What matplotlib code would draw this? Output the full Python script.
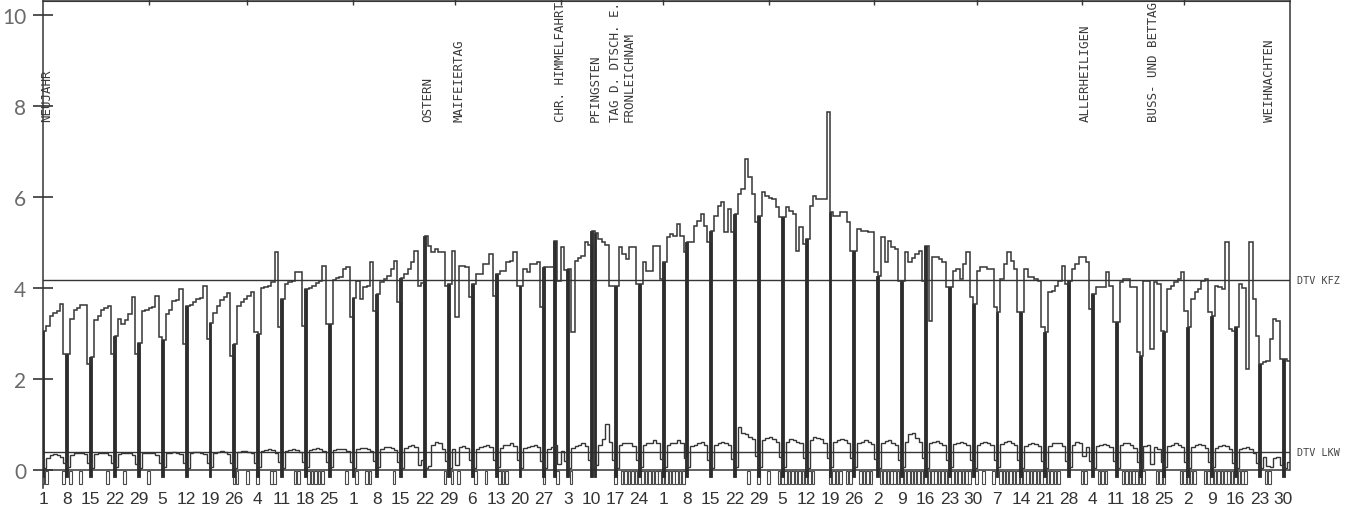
import numpy as np
import matplotlib
matplotlib.use("Agg")
import matplotlib.pyplot as plt
from matplotlib.transforms import blended_transform_factory

# Tagesverkehr 1984 in 1000 Kfz/24h, one value per day, 1 Jan 1984 = Sunday
kfz = [
    3.06, 3.17, 3.39, 3.45, 3.50, 3.65, 2.55,
    2.55, 3.32, 3.52, 3.56, 3.62, 3.62, 2.33,
    2.48, 3.30, 3.38, 3.52, 3.56, 3.60, 2.55,
    2.95, 3.32, 3.20, 3.30, 3.42, 3.80, 2.55,
    2.79, 3.50, 3.52, 3.55, 3.58, 3.82, 2.93,
    2.86, 3.43, 3.52, 3.72, 3.74, 3.98, 2.76,
    3.60, 3.62, 3.68, 3.76, 3.78, 4.05, 2.88,
    3.23, 3.45, 3.60, 3.74, 3.80, 3.88, 2.50,
    2.77, 3.61, 3.68, 3.76, 3.82, 3.90, 3.04,
    2.99, 3.99, 4.01, 4.04, 4.12, 4.80, 3.13,
    3.76, 4.09, 4.12, 4.15, 4.34, 4.36, 3.16,
    3.98, 4.00, 4.05, 4.10, 4.15, 4.49, 3.21,
    3.20, 4.18, 4.22, 4.25, 4.42, 4.45, 3.36,
    3.77, 4.16, 3.76, 4.01, 4.05, 4.56, 3.50,
    3.87, 4.12, 4.19, 4.27, 4.42, 4.60, 3.69,
    4.21, 4.31, 4.42, 4.56, 4.82, 4.05, 4.10,
    5.15, 4.93, 4.80, 4.85, 4.80, 4.78, 4.05,
    4.09, 4.82, 3.36, 4.49, 4.49, 4.45, 3.80,
    4.09, 4.31, 4.31, 4.53, 4.53, 4.75, 3.83,
    4.31, 4.38, 4.38, 4.56, 4.60, 4.78, 4.05,
    4.05, 4.42, 4.35, 4.53, 4.53, 4.56, 3.58,
    4.45, 4.45, 4.45, 5.04, 4.16, 4.90, 4.40,
    4.42, 3.03, 4.60, 4.65, 4.71, 5.00, 4.95,
    5.26, 5.20, 5.08, 5.00, 4.95, 4.05, 4.05,
    4.05, 4.90, 4.75, 4.64, 4.90, 4.90, 4.09,
    4.09, 4.56, 4.38, 4.38, 4.93, 4.93, 4.20,
    4.56, 5.11, 5.19, 5.15, 5.41, 5.15, 4.80,
    5.00, 5.00, 5.37, 5.48, 5.63, 5.37, 5.00,
    5.26, 5.59, 5.81, 5.88, 5.22, 5.74, 5.22,
    5.63, 6.07, 6.18, 6.84, 6.43, 6.07, 5.44,
    5.59, 6.10, 6.03, 5.98, 5.96, 5.77, 5.55,
    5.55, 5.77, 5.70, 5.63, 4.82, 5.33, 4.97,
    5.08, 5.81, 6.03, 5.96, 5.96, 5.96, 7.86,
    5.66, 5.59, 5.59, 5.66, 5.66, 5.44, 4.82,
    4.82, 5.30, 5.26, 5.26, 5.22, 5.22, 4.34,
    4.27, 5.13, 4.56, 5.04, 4.90, 4.86, 4.16,
    4.16, 4.78, 4.56, 4.65, 4.75, 4.82, 4.16,
    4.93, 3.28, 4.67, 4.67, 4.64, 4.56, 4.01,
    4.01, 4.38, 4.42, 4.20, 4.53, 4.78, 3.80,
    3.65, 4.38, 4.45, 4.45, 4.42, 4.42, 3.58,
    3.47, 4.20, 4.53, 4.78, 4.60, 4.42, 3.47,
    3.47, 4.42, 4.23, 4.23, 4.20, 4.16, 3.14,
    3.03, 3.90, 3.94, 4.05, 4.16, 4.49, 4.09,
    4.16, 4.42, 4.53, 4.67, 4.67, 4.56, 3.54,
    3.87, 4.01, 4.01, 4.01, 4.34, 4.05, 3.25,
    3.25, 4.12, 4.20, 4.20, 4.01, 4.01, 2.59,
    2.51, 4.16, 4.16, 2.66, 4.12, 4.09, 3.06,
    3.03, 3.98, 4.05, 4.12, 4.20, 4.34, 3.50,
    3.14, 3.76, 3.90, 3.98, 4.16, 4.20, 3.47,
    3.39, 4.05, 4.01, 3.98, 5.00, 3.10, 3.06,
    3.14, 4.09, 4.00, 2.22, 5.00, 3.76, 2.95,
    2.33, 2.37, 2.40, 2.88, 3.32, 3.28, 2.44,
    2.44, 2.40,
]

lkw = [
    0.05, 0.25, 0.32, 0.35, 0.33, 0.28, 0.14,
    0.06, 0.33, 0.36, 0.37, 0.36, 0.34, 0.15,
    0.05, 0.35, 0.37, 0.38, 0.37, 0.33, 0.14,
    0.06, 0.34, 0.36, 0.38, 0.36, 0.32, 0.13,
    0.05, 0.36, 0.38, 0.38, 0.37, 0.33, 0.15,
    0.06, 0.36, 0.38, 0.39, 0.37, 0.34, 0.14,
    0.05, 0.37, 0.39, 0.40, 0.38, 0.34, 0.16,
    0.06, 0.38, 0.40, 0.41, 0.39, 0.35, 0.15,
    0.05, 0.40, 0.42, 0.41, 0.40, 0.36, 0.16,
    0.06, 0.42, 0.44, 0.45, 0.43, 0.38, 0.18,
    0.05, 0.42, 0.43, 0.45, 0.44, 0.40, 0.17,
    0.06, 0.43, 0.45, 0.47, 0.45, 0.41, 0.18,
    0.06, 0.44, 0.46, 0.46, 0.45, 0.42, 0.18,
    0.05, 0.45, 0.47, 0.48, 0.46, 0.42, 0.20,
    0.06, 0.46, 0.50, 0.50, 0.48, 0.44, 0.18,
    0.05, 0.48, 0.52, 0.55, 0.50, 0.10, 0.22,
    0.04, 0.08, 0.55, 0.62, 0.58, 0.45, 0.20,
    0.05, 0.45, 0.10, 0.50, 0.53, 0.48, 0.22,
    0.05, 0.46, 0.50, 0.53, 0.55, 0.50, 0.22,
    0.06, 0.48, 0.55, 0.55, 0.58, 0.52, 0.22,
    0.05, 0.47, 0.50, 0.53, 0.55, 0.50, 0.20,
    0.05, 0.45, 0.50, 0.55, 0.12, 0.42, 0.20,
    0.05, 0.48, 0.53, 0.55, 0.58, 0.52, 0.22,
    0.04, 0.10, 0.55, 0.68, 1.01, 0.62, 0.22,
    0.05, 0.55, 0.58, 0.60, 0.58, 0.52, 0.22,
    0.06, 0.55, 0.60, 0.60, 0.65, 0.58, 0.24,
    0.06, 0.55, 0.60, 0.60, 0.65, 0.58, 0.25,
    0.06, 0.52, 0.55, 0.60, 0.62, 0.55, 0.22,
    0.05, 0.55, 0.60, 0.62, 0.60, 0.55, 0.24,
    0.06, 0.94, 0.80, 0.78, 0.72, 0.68, 0.30,
    0.06, 0.65, 0.70, 0.72, 0.68, 0.62, 0.28,
    0.06, 0.62, 0.68, 0.65, 0.62, 0.58, 0.25,
    0.05, 0.65, 0.72, 0.70, 0.68, 0.60, 0.26,
    0.06, 0.62, 0.66, 0.68, 0.66, 0.58, 0.25,
    0.06, 0.60, 0.62, 0.65, 0.62, 0.56, 0.24,
    0.05, 0.60, 0.64, 0.66, 0.60, 0.55, 0.22,
    0.06, 0.62, 0.78, 0.80, 0.70, 0.62, 0.25,
    0.05, 0.58, 0.62, 0.64, 0.60, 0.55, 0.22,
    0.06, 0.56, 0.60, 0.62, 0.60, 0.55, 0.22,
    0.05, 0.55, 0.60, 0.62, 0.60, 0.54, 0.22,
    0.06, 0.56, 0.62, 0.64, 0.60, 0.55, 0.22,
    0.05, 0.52, 0.56, 0.58, 0.56, 0.52, 0.20,
    0.05, 0.52, 0.58, 0.60, 0.58, 0.52, 0.20,
    0.06, 0.55, 0.62, 0.60, 0.30, 0.50, 0.20,
    0.05, 0.52, 0.55, 0.56, 0.55, 0.50, 0.20,
    0.05, 0.55, 0.58, 0.60, 0.55, 0.48, 0.18,
    0.05, 0.52, 0.55, 0.12, 0.50, 0.45, 0.18,
    0.06, 0.52, 0.55, 0.58, 0.55, 0.50, 0.18,
    0.05, 0.50, 0.55, 0.56, 0.55, 0.48, 0.18,
    0.06, 0.48, 0.52, 0.55, 0.52, 0.45, 0.16,
    0.05, 0.45, 0.48, 0.50, 0.46, 0.38, 0.14,
    0.04, 0.28, 0.08, 0.06, 0.25, 0.28, 0.10,
    0.04, 0.18,
]

dtv_kfz = 4.18
dtv_lkw = 0.40

# days drawn as dark bars: Sundays plus these holidays
extra_bar_days = [150, 162]

sunday_labels = [1, 8, 15, 22, 29, 5, 12, 19, 26, 4, 11, 18, 25,
                 1, 8, 15, 22, 29, 6, 13, 20, 27, 3, 10, 17, 24,
                 1, 8, 15, 22, 29, 5, 12, 19, 26, 2, 9, 16, 23, 30,
                 7, 14, 21, 28, 4, 11, 18, 25, 2, 9, 16, 23, 30]
month_days = [31, 29, 31, 30, 31, 30, 31, 31, 30, 31, 30, 31]

holiday_names = ["NEUJAHR", "OSTERN", "MAIFEIERTAG", "CHR. HIMMELFAHRT",
                 "PFINGSTEN", "TAG D. DTSCH. E.\nFRONLEICHNAM",
                 "ALLERHEILIGEN", "BUSS- UND BETTAG", "WEIHNACHTEN"]
holiday_days = [0, 112, 121, 151, 161, 169, 305, 325, 359]

# school holiday days (marks below the zero line), as (first, last) day index
ferien = [(0, 1), (6, 6), (8, 8), (11, 11), (19, 19), (24, 24), (31, 31),
          (56, 57), (60, 60), (63, 63), (67, 68), (74, 75), (78, 82),
          (89, 89), (92, 92), (95, 96), (103, 103), (118, 118), (120, 120),
          (122, 122), (127, 127), (130, 130), (134, 136), (147, 147),
          (151, 151), (155, 155), (168, 168), (170, 188), (207, 207),
          (210, 210), (213, 213), (216, 226), (231, 234), (236, 237),
          (240, 243), (246, 272), (274, 274), (276, 276), (279, 279),
          (281, 298), (305, 306), (310, 312), (317, 323), (327, 329),
          (334, 338), (341, 353), (359, 360)]

ink = "#353535"

kfz = np.array(kfz)
lkw = np.array(lkw)
days = np.arange(len(kfz))
edges = np.arange(len(kfz) + 1)
sundays = days[::7]
bar_days = np.sort(np.concatenate([sundays, extra_bar_days]))
ferien_days = np.concatenate([np.arange(a, b + 1) for a, b in ferien])

fig = plt.figure(figsize=(13.62, 5.10), dpi=100)
ax = fig.add_axes([43 / 1362, 21 / 510, 1247 / 1362, 487 / 510])
ax.set_xlim(0, len(kfz))
ax.set_ylim(-0.4, 10.31)

# school holiday boxes
ax.bar(ferien_days, 0.29, bottom=-0.31, width=0.75, facecolor="white",
       edgecolor="#4a4a4a", linewidth=0.8, zorder=2)

# reference lines
ax.axhline(0, color=ink, lw=1.1, zorder=3)
ax.axhline(dtv_kfz, color=ink, lw=1.0, zorder=3)
ax.axhline(dtv_lkw, color=ink, lw=1.0, zorder=3)

# Sunday / holiday bars
ax.bar(bar_days, kfz[bar_days] + 0.15, bottom=-0.15, width=0.85,
       color="#2c2c2c", edgecolor="#2c2c2c", linewidth=0.6, zorder=4)

ax.stairs(kfz, edges, baseline=None, color=ink, lw=1.1, zorder=5)
ax.stairs(lkw, edges, baseline=None, color=ink, lw=1.0, zorder=5)

# holiday labels
for name, d in zip(holiday_names, holiday_days):
    ax.text(d + 1, 7.67, name, rotation=90, ha="center", va="bottom",
            multialignment="left", fontsize=9, family="DejaVu Sans Mono",
            color="#3a3a3a", linespacing=1.0, clip_on=False, zorder=6)

# DTV labels on the right
trans = blended_transform_factory(ax.transAxes, ax.transData)
ax.text(1.0056, dtv_kfz, "DTV KFZ", transform=trans, va="center",
        ha="left", fontsize=7.3, family="DejaVu Sans Mono", color="#444")
ax.text(1.0056, dtv_lkw, "DTV LKW", transform=trans, va="center",
        ha="left", fontsize=7.3, family="DejaVu Sans Mono", color="#444")

# axes styling
ax.spines["bottom"].set_visible(False)
ax.spines["right"].set_bounds(0, 10.31)
for s in ["left", "right", "top"]:
    ax.spines[s].set_color(ink)
    ax.spines[s].set_linewidth(1.1)

ax.set_yticks([0, 2, 4, 6, 8, 10])
ax.tick_params(axis="y", direction="inout", length=14, width=1.2,
               color=ink, labelsize=15, labelcolor="#6a6a6a", pad=5)
for lab in ax.get_yticklabels():
    lab.set_family(["Lato", "DejaVu Sans"])

ax.set_xticks(sundays, [str(v) for v in sunday_labels])
ax.tick_params(axis="x", length=0, pad=2, labelsize=12.5, labelcolor="#333")
for lab in ax.get_xticklabels():
    lab.set_family(["Liberation Sans", "DejaVu Sans"])

top = ax.secondary_xaxis("top")
top.set_xticks(np.cumsum(month_days)[:-1])
top.tick_params(direction="inout", length=6, width=1.0, color=ink,
                labeltop=False)
top.spines["top"].set_color(ink)

fig.savefig("out.png", dpi=100, facecolor="white")
